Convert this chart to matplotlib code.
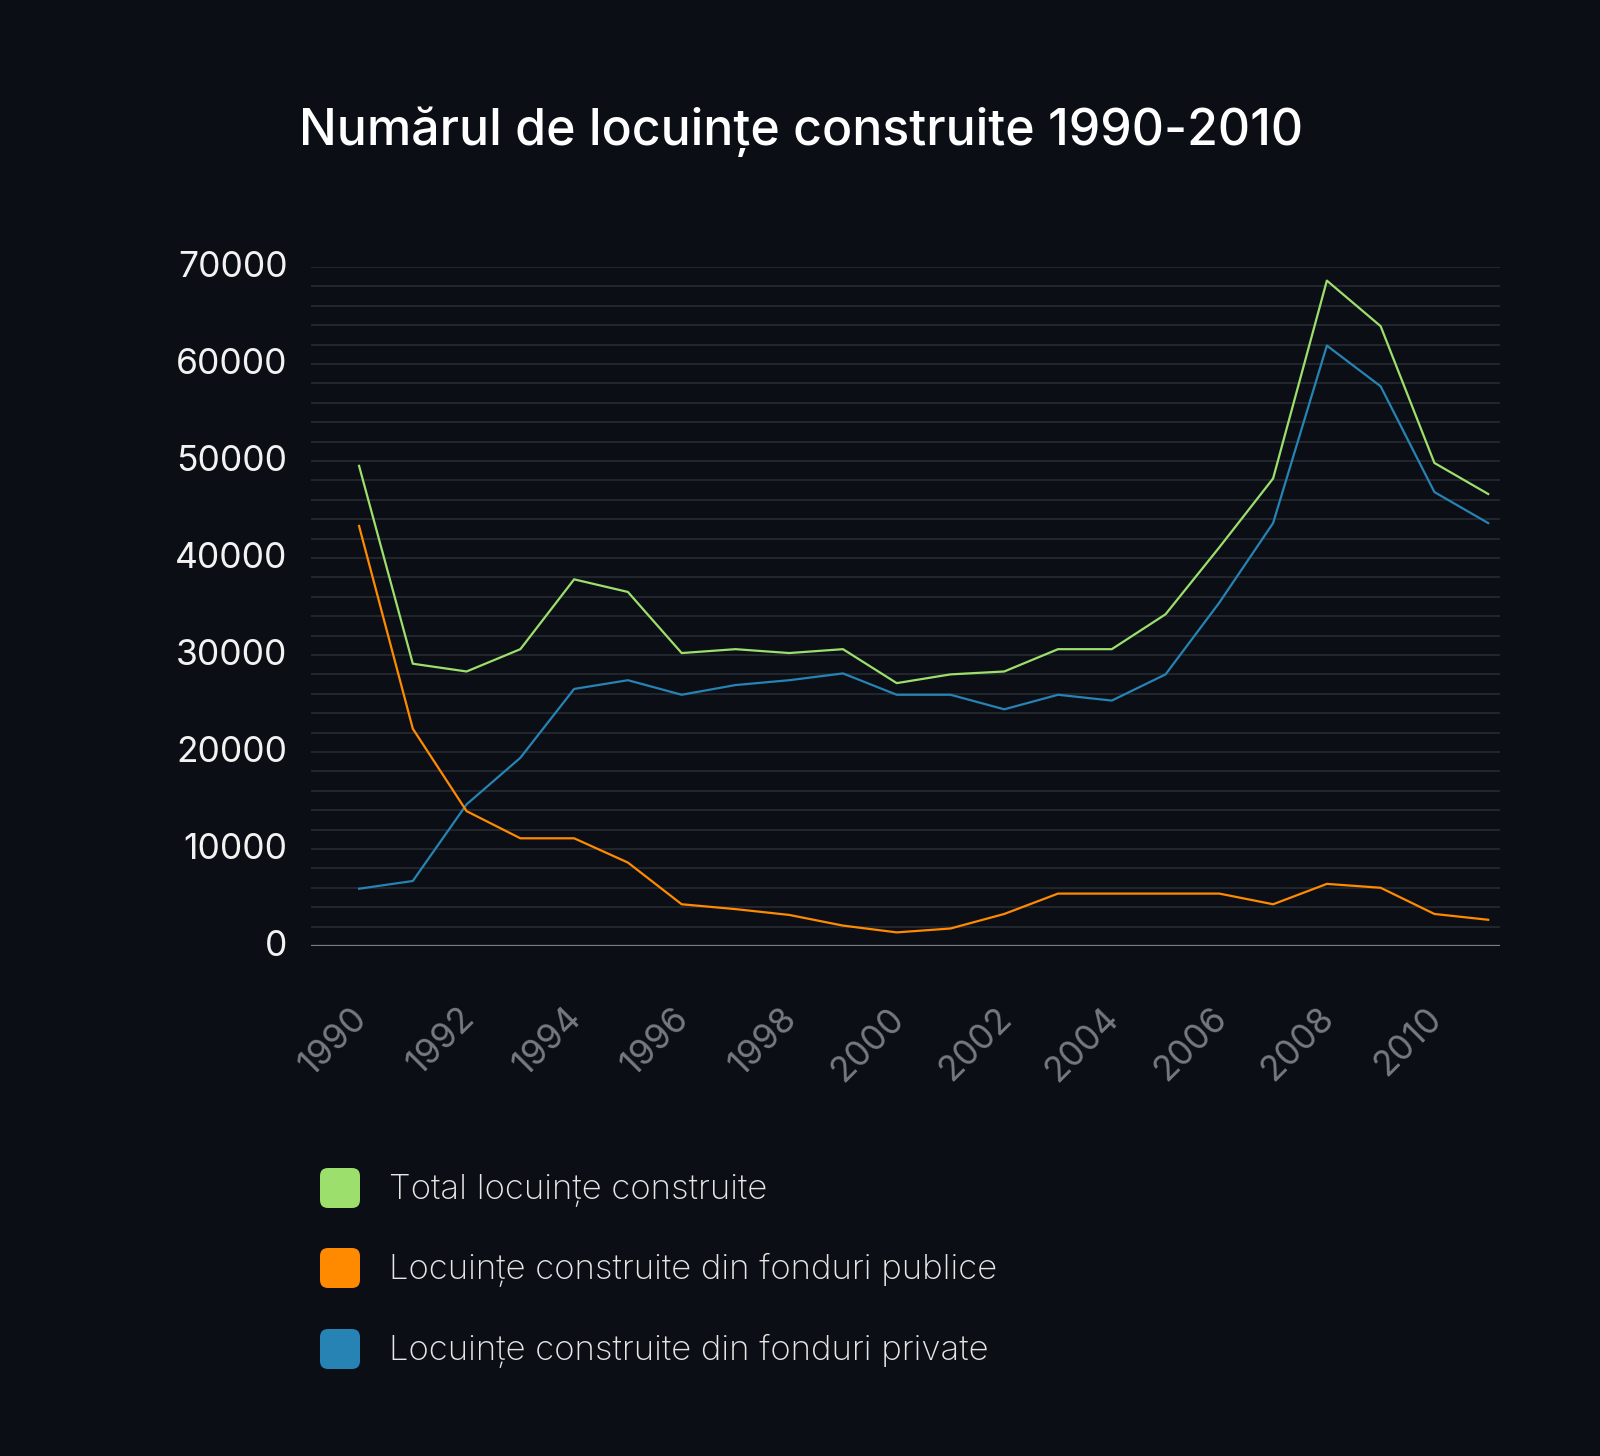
import matplotlib
matplotlib.use("Agg")
import matplotlib.pyplot as plt
from matplotlib import font_manager
from matplotlib.patches import FancyBboxPatch
from matplotlib.transforms import ScaledTranslation
import numpy as np

years = list(range(1990, 2012))
total = [49500, 29100, 28300, 30600, 37800, 36500, 30200, 30600, 30200, 30600,
         27100, 28000, 28300, 30600, 30600, 34200, 41100, 48200, 68600, 63900,
         49800, 46600]
private = [5900, 6700, 14600, 19400, 26500, 27400, 25900, 26900, 27400, 28100,
           25900, 25900, 24400, 25900, 25300, 28000, 35400, 43600, 61900, 57700,
           46800, 43600]
public = [43300, 22400, 13900, 11100, 11100, 8600, 4300, 3800, 3200, 2100,
          1400, 1800, 3300, 5400, 5400, 5400, 5400, 4300, 6400, 6000,
          3300, 2700]

series_names = ["Total locuințe construite",
                "Locuințe construite din fonduri publice",
                "Locuințe construite din fonduri private"]
title = "Numărul de locuințe construite 1990-2010"
xticks = list(range(1990, 2011, 2))
yticks = list(range(0, 70001, 10000))

c_green = "#9ddf6c"
c_orange = "#ff8a00"
c_blue = "#2683b3"
bg = "#0b0f15"

avail = {f.name for f in font_manager.fontManager.ttflist}
fam = "Inter" if "Inter" in avail else "DejaVu Sans"
plt.rcParams['font.family'] = [fam, 'DejaVu Sans']

fig = plt.figure(figsize=(16, 14.56), dpi=100, facecolor=bg)
ax = fig.add_axes([0.1944, 0.3503, 0.7431, 0.4663])
ax.set_facecolor(bg)

for v in range(0, 70001, 2000):
    if v == 0:
        continue
    ax.axhline(v, color="#22262d", lw=1.4, zorder=0)
ax.axhline(0, color="#7b7f86", lw=1.6, zorder=1)

ax.plot(years, total, color=c_green, lw=1.6, zorder=3)
ax.plot(years, private, color=c_blue, lw=1.6, zorder=3)
ax.plot(years, public, color=c_orange, lw=1.6, zorder=3)

ax.set_xlim(1989.107, 2011.22)
ax.set_ylim(0, 70000)
for s in ax.spines.values():
    s.set_visible(False)

ax.set_yticks(yticks)
ax.set_yticklabels([str(v) for v in yticks])
ax.tick_params(axis='y', length=0, pad=17, labelsize=25.5, labelcolor="#f2f2f2")
yoff = ScaledTranslation(0, 3 / 100, fig.dpi_scale_trans)
for lab in ax.get_yticklabels():
    lab.set_transform(lab.get_transform() + yoff)
ax.set_xticks(xticks)
ax.set_xticklabels([str(v) for v in xticks], rotation=45, ha='right')
ax.tick_params(axis='x', length=0, pad=40, labelsize=25.5, labelcolor="#76797e")
off = ScaledTranslation(14 / 100, 0, fig.dpi_scale_trans)
for lab in ax.get_xticklabels():
    lab.set_transform(lab.get_transform() + off)

fig.text(299/1600, 1 - 132/1456, title, color="white", fontsize=36,
         fontweight='medium', ha='left', va='center')

cols = [c_green, c_orange, c_blue]
ys = [1188, 1268, 1349]
for name, col, yp in zip(series_names, cols, ys):
    w = 40 / 1600
    h = 40 / 1456
    x0 = 320 / 1600
    y0 = 1 - yp / 1456 - h / 2
    p = FancyBboxPatch((x0, y0), w, h, boxstyle="round,pad=0,rounding_size=0.005",
                       transform=fig.transFigure, facecolor=col, edgecolor='none',
                       mutation_aspect=1600/1456)
    fig.patches.append(p)
    fig.text(389 / 1600, 1 - (yp + 2) / 1456, name, color="#e6e6e6", fontsize=25,
             fontweight='light', ha='left', va='center')

fig.savefig("out.png", dpi=100, facecolor=bg)
